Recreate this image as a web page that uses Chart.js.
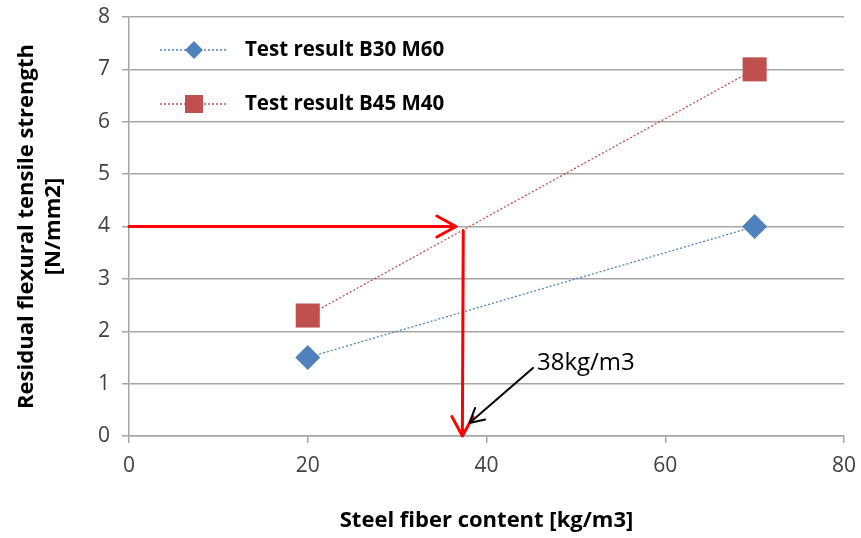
<!DOCTYPE html>
<html>
<head>
<meta charset="utf-8">
<script src="https://cdn.jsdelivr.net/npm/chart.js@4/dist/chart.umd.min.js"></script>
<style>
  html, body { margin: 0; padding: 0; background: #fff; }
  #wrap { width: 861px; height: 538px; }
</style>
</head>
<body>
<div id="wrap"><canvas id="c" width="861" height="538"></canvas></div>
<script>
const fiberContent = [20, 70];
const strengthB30M60 = [1.5, 4];
const strengthB45M40 = [2.3, 7];
const seriesLabels = ['Test result B30 M60', 'Test result B45 M40'];

// read-off arrows: [x1, y1, x2, y2] in data units
const redArrows = [
    [0, 4, 36.6, 4],
    [37.4, 3.92, 37.3, 0]
];
const pointerArrow = [45.2, 1.3, 38.1, 0.25];
const pointerText = '38kg/m3';

const BLUE = '#4F81BD';
const RED = '#C0504D';
const FONT = "'Open Sans', 'Noto Sans', sans-serif";

function arrow(ctx, x1, y1, x2, y2, color, width, head) {
    const ang = Math.atan2(y2 - y1, x2 - x1);
    ctx.save();
    ctx.strokeStyle = color;
    ctx.lineWidth = width;
    ctx.lineCap = 'round';
    ctx.lineJoin = 'round';
    ctx.beginPath();
    ctx.moveTo(x1, y1);
    ctx.lineTo(x2, y2);
    ctx.moveTo(x2 - head * Math.cos(ang - 0.5), y2 - head * Math.sin(ang - 0.5));
    ctx.lineTo(x2, y2);
    ctx.lineTo(x2 - head * Math.cos(ang + 0.5), y2 - head * Math.sin(ang + 0.5));
    ctx.stroke();
    ctx.restore();
}

const annotations = {
    id: 'annotations',
    afterDatasetsDraw(chart) {
        const ctx = chart.ctx;
        const x = chart.scales.x, y = chart.scales.y;
        redArrows.forEach(function (a) {
            arrow(ctx, x.getPixelForValue(a[0]), y.getPixelForValue(a[1]),
                x.getPixelForValue(a[2]), y.getPixelForValue(a[3]), '#FF0000', 3, 22);
        });
        const p = pointerArrow;
        arrow(ctx, x.getPixelForValue(p[0]), y.getPixelForValue(p[1]),
            x.getPixelForValue(p[2]), y.getPixelForValue(p[3]), '#000', 2, 16);
        ctx.save();
        ctx.fillStyle = '#000';
        ctx.font = '24px ' + FONT;
        ctx.textBaseline = 'middle';
        ctx.fillText(pointerText, x.getPixelForValue(p[0]) + 4, y.getPixelForValue(p[1]) - 5);
        ctx.restore();
    }
};

const legendBox = {
    id: 'legendBox',
    afterDraw(chart) {
        const ctx = chart.ctx;
        const rows = [50, 104];
        chart.data.datasets.forEach(function (ds, i) {
            const yy = rows[i];
            ctx.save();
            ctx.strokeStyle = ds.borderColor;
            ctx.lineWidth = 1.3;
            ctx.setLineDash([2, 2]);
            ctx.beginPath();
            ctx.moveTo(160, yy);
            ctx.lineTo(228, yy);
            ctx.stroke();
            ctx.setLineDash([]);
            ctx.fillStyle = ds.backgroundColor;
            if (ds.pointStyle === 'rectRot') {
                ctx.beginPath();
                ctx.moveTo(194, yy - 9);
                ctx.lineTo(203, yy);
                ctx.lineTo(194, yy + 9);
                ctx.lineTo(185, yy);
                ctx.closePath();
                ctx.fill();
            } else {
                ctx.fillRect(185, yy - 9, 18, 18);
            }
            ctx.fillStyle = '#000';
            ctx.font = 'bold 20.5px ' + FONT;
            ctx.textBaseline = 'middle';
            ctx.fillText(ds.label, 245, yy);
            ctx.restore();
        });
    }
};

new Chart(document.getElementById('c'), {
    type: 'scatter',
    data: {
        datasets: [
            {
                label: seriesLabels[0],
                data: fiberContent.map((v, i) => ({x: v, y: strengthB30M60[i]})),
                showLine: true,
                borderColor: BLUE,
                backgroundColor: BLUE,
                borderWidth: 1.3,
                borderDash: [2, 2],
                pointStyle: 'rectRot',
                pointRadius: 12.5,
                pointHoverRadius: 12.5,
                pointBorderWidth: 0
            },
            {
                label: seriesLabels[1],
                data: fiberContent.map((v, i) => ({x: v, y: strengthB45M40[i]})),
                showLine: true,
                borderColor: RED,
                backgroundColor: RED,
                borderWidth: 1.3,
                borderDash: [2, 2],
                pointStyle: 'rect',
                pointRadius: 17,
                pointHoverRadius: 17,
                pointBorderWidth: 0
            }
        ]
    },
    options: {
        responsive: false,
        animation: false,
        layout: { padding: { left: 0, right: 14, top: 16, bottom: 0 } },
        plugins: {
            legend: { display: false },
            tooltip: { enabled: false }
        },
        scales: {
            x: {
                min: 0,
                max: 80,
                ticks: { stepSize: 20, color: '#404040', font: { family: FONT, size: 21 }, padding: 10 },
                grid: { drawOnChartArea: false, drawTicks: true, tickLength: 7, color: '#A6A6A6', lineWidth: 1.5 },
                border: { color: '#A6A6A6', width: 1.5 },
                title: { display: true, text: 'Steel fiber content [kg/m3]', color: '#000',
                    font: { family: FONT, size: 22, weight: 'bold' }, padding: { top: 10 } },
                afterFit: function (s) { s.height = 102; s.paddingLeft = 0; s.paddingRight = 0; }
            },
            y: {
                min: 0,
                max: 8,
                ticks: { stepSize: 1, color: '#404040', font: { family: FONT, size: 21 }, padding: 12 },
                grid: { color: '#A6A6A6', lineWidth: 1.5, tickLength: 7 },
                border: { color: '#A6A6A6', width: 1.5 },
                title: { display: true, text: ['Residual flexural tensile strength', '[N/mm2]'], color: '#000',
                    font: { family: FONT, size: 22, weight: 'bold', lineHeight: 1.2 }, padding: { top: 14, bottom: 0 } },
                afterFit: function (s) { s.width = 129; s.paddingTop = 0; s.paddingBottom = 0; }
            }
        }
    },
    plugins: [annotations, legendBox]
});
</script>
</body>
</html>
